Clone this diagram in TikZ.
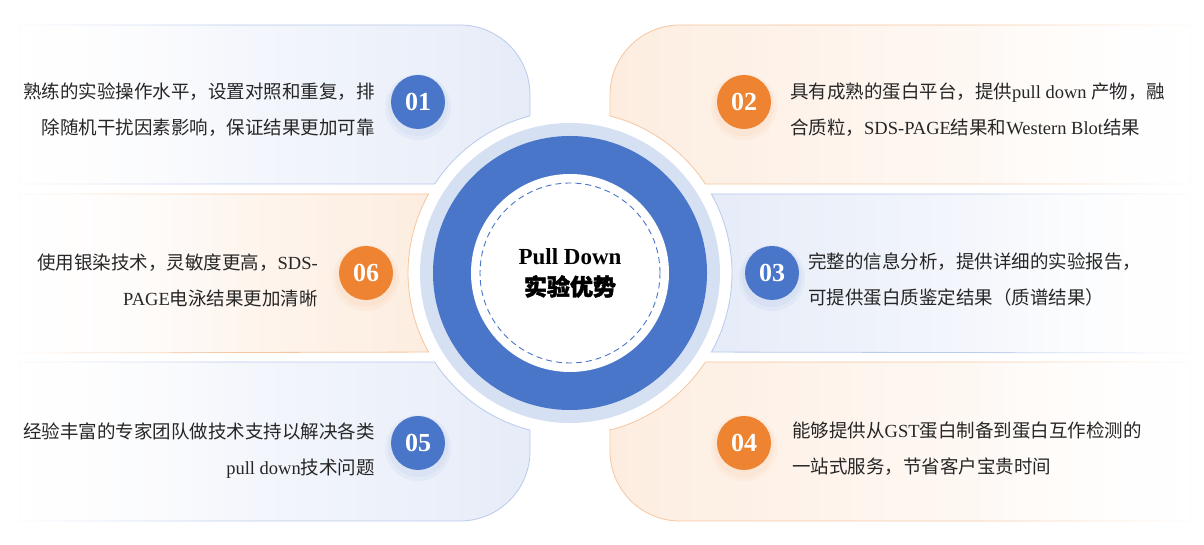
\documentclass[tikz,border=0pt]{standalone}
\usepackage{fontspec}
\setmainfont{Liberation Serif}
\newfontfamily\cjk{Noto Sans CJK SC}
\newfontfamily\cjkb[FakeBold=2]{Noto Sans CJK SC}
\newcommand{\C}[1]{{\cjk #1}}
\usetikzlibrary{fadings}
\definecolor{myblue}{HTML}{4A76C9}
\definecolor{myorange}{HTML}{EE8431}
\definecolor{bluetint}{HTML}{E6ECF8}
\definecolor{orangetint}{HTML}{FDEDE0}
\definecolor{blueline}{HTML}{B9CAEC}
\definecolor{orangeline}{HTML}{F6C6A0}
\definecolor{ringlight}{HTML}{D6E0F3}
\begin{document}
\begin{tikzpicture}[x=1pt,y=1pt,
  bpanel/.style={draw=blueline,line width=0.8pt},
  opanel/.style={draw=orangeline,line width=0.8pt},
  badge/.style={circle,minimum size=54pt,inner sep=0pt,text=white,font=\fontsize{26}{26}\selectfont\bfseries},
  txt/.style={font=\fontsize{18.5}{36}\selectfont,text=black!85,inner sep=0pt}]
\fill[white] (0,0) rectangle (1204,545);
\useasboundingbox (0,0) rectangle (1204,545);
% left panels
\path[bpanel,left color=white,right color=bluetint] (20,520) -- (460,520) arc[start angle=90,end angle=0,radius=70] -- (530,429) arc[start angle=104.3,end angle=146.7,radius=162] -- (20,361) -- cycle;
\path[opanel,left color=white,right color=orangetint] (20,351) -- (428.6,351) arc[start angle=150.8,end angle=209.2,radius=162] -- (20,192) -- cycle;
\path[bpanel,left color=white,right color=bluetint] (20,183) -- (434.6,183) arc[start angle=213.3,end angle=255.7,radius=162] -- (530,94) arc[start angle=0,end angle=-90,radius=70] -- (20,24) -- cycle;
% right panels
\path[opanel,right color=white,left color=orangetint] (1190,520) -- (680,520) arc[start angle=90,end angle=180,radius=70] -- (610,429) arc[start angle=75.7,end angle=33.3,radius=162] -- (1190,361) -- cycle;
\path[bpanel,right color=white,left color=bluetint] (1190,351) -- (711.4,351) arc[start angle=29.2,end angle=-29.2,radius=162] -- (1190,192) -- cycle;
\path[opanel,right color=white,left color=orangetint] (1190,183) -- (705.4,183) arc[start angle=-33.3,end angle=-75.7,radius=162] -- (610,115) -- (610,94) arc[start angle=180,end angle=270,radius=70] -- (1190,24) -- cycle;
% fade outer ends
\fill[white,path fading=east] (0,0) rectangle (240,545);
\fill[white,path fading=west] (964,0) rectangle (1204,545);
% centre
\coordinate (c) at (570,272);
\fill[ringlight] (c) circle[radius=150];
\fill[myblue] (c) circle[radius=137];
\fill[white] (c) circle[radius=99];
\draw[myblue,line width=0.9pt,dash pattern=on 6pt off 4pt] (c) circle[radius=90];
\node[align=center,font=\fontsize{23}{31}\selectfont\bfseries] (title) at (c) {Pull Down\\{\cjkb 实验优势}};
% soft shadows
\foreach \x/\y/\col in {418/443/myblue,744/443/myorange,772/272/myblue,744/102/myorange,418/102/myblue,366/272/myorange}{
  \fill[\col,opacity=0.05] (\x,\y-5) circle[radius=33];
  \fill[\col,opacity=0.05] (\x,\y-4) circle[radius=30];}
\node[badge,fill=myblue] (b1) at (418,443) {01};
\node[badge,fill=myorange] (b2) at (744,443) {02};
\node[badge,fill=myblue] (b3) at (772,272) {03};
\node[badge,fill=myorange] (b4) at (744,102) {04};
\node[badge,fill=myblue] (b5) at (418,102) {05};
\node[badge,fill=myorange] (b6) at (366,272) {06};
% texts
\node[txt,align=right,anchor=east] (t1) at (375,435) {\C{熟练的实验操作水平，设置对照和重复，排}\\\C{除随机干扰因素影响，保证结果更加可靠}};
\node[txt,align=left,anchor=west] (t2) at (790,435) {\C{具有成熟的蛋白平台，提供}pull down \C{产物，融}\\\C{合质粒，}SDS-PAGE\C{结果和}Western Blot\C{结果}};
\node[txt,align=left,anchor=west] (t3) at (808,265) {\C{完整的信息分析，提供详细的实验报告，}\\\C{可提供蛋白质鉴定结果（质谱结果）}};
\node[txt,align=left,anchor=west] (t4) at (792,96) {\C{能够提供从}GST\C{蛋白制备到蛋白互作检测的}\\\C{一站式服务，节省客户宝贵时间}};
\node[txt,align=right,anchor=east] (t5) at (375,94) {\C{经验丰富的专家团队做技术支持以解决各类}\\pull down\C{技术问题}};
\node[txt,align=right,anchor=east] (t6) at (318,265) {\C{使用银染技术，灵敏度更高，}SDS-\\PAGE\C{电泳结果更加清晰}};
\end{tikzpicture}
\end{document}
